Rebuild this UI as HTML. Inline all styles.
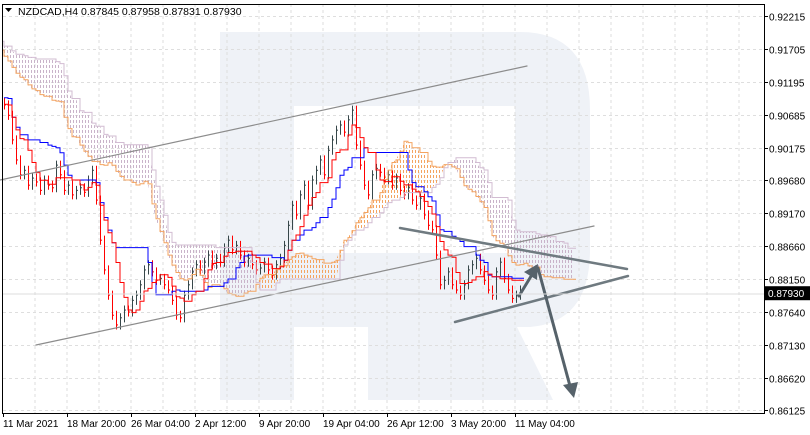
<!DOCTYPE html>
<html><head><meta charset="utf-8"><style>
html,body{margin:0;padding:0;background:#fff;}
svg{display:block;font-family:"Liberation Sans",sans-serif;}
</style></head><body>
<svg id="chart" width="810" height="435" viewBox="0 0 810 435">
<defs>
<pattern id="pA" width="3" height="5" patternUnits="userSpaceOnUse"><rect x="1" y="0" width="1" height="3" fill="#f4a460"/></pattern>
<pattern id="pB" width="3" height="5" patternUnits="userSpaceOnUse"><rect x="1" y="0" width="1" height="3" fill="#c9b3c9"/></pattern>
<clipPath id="plotClip"><rect x="3" y="4" width="761" height="409"/></clipPath>
</defs>
<path fill="#eff2f7" fill-rule="evenodd" d="M220,32 L520,32 Q590,32 590,110 L590,250 Q590,322 530,327 L517,327 L553,400 L368,400 L368,327 L294,327 L294,400 L220,400 Z M294,106 L515,106 L515,253 L294,253 Z"/>
<g id="grid"></g>
<g clip-path="url(#plotClip)">
<g id="cloud"></g>
<g id="bars"></g>
<g id="lines"></g>
</g>
<g stroke-linecap="round">
<line x1="0" y1="180" x2="527" y2="66" stroke="#8c8c8c" stroke-width="1.2"/>
<line x1="36" y1="345" x2="594" y2="226" stroke="#8c8c8c" stroke-width="1.2"/>
<line x1="400" y1="228" x2="627" y2="269" stroke="#6f7a80" stroke-width="2.5"/>
<line x1="455" y1="322" x2="628" y2="276" stroke="#6f7a80" stroke-width="2.5"/>
<line x1="519" y1="296" x2="533" y2="273" stroke="#56626a" stroke-width="3"/>
<polygon points="538,264 524,272 537,280" fill="#56626a"/>
<line x1="538" y1="268" x2="570" y2="386" stroke="#56626a" stroke-width="3"/>
<polygon points="574,398 563,385 578,382" fill="#56626a"/>
</g>
<line x1="3" y1="294" x2="764" y2="294" stroke="#dcdcdc" stroke-width="1"/>
<g id="axes"></g>
<text x="18" y="15" font-size="10.5" fill="#000">NZDCAD,H4  0.87845 0.87958 0.87831 0.87930</text>
<polygon points="5,8 12,8 8.5,12" fill="#000"/>
</svg>
<script>
const preCloses = [0.9232,0.9222,0.9228,0.9210,0.9200,0.9212,0.9190,0.9178,0.9185,0.9160,
0.9145,0.9150,0.9125,0.9110,0.9120,0.9095,0.9085,0.9100,0.9080,0.9075,
0.9090,0.9070,0.9085,0.9100,0.9092,0.9088];
const closes = [0.9084,0.9068,0.9030,0.8999,0.8976,0.8983,0.8960,0.8971,0.8965,0.8952,
0.8968,0.8960,0.8956,0.8991,0.8976,0.8952,0.8960,0.8945,0.8952,0.8956,
0.8949,0.8968,0.8983,0.8937,0.8875,0.8829,0.8790,0.8759,0.8744,0.8755,
0.8767,0.8764,0.8782,0.8790,0.8806,0.8829,0.8837,0.8826,0.8813,0.8816,
0.8806,0.8798,0.8782,0.8759,0.8755,0.8790,0.8806,0.8826,0.8837,0.8829,
0.8841,0.8852,0.8837,0.8847,0.8841,0.8863,0.8875,0.8860,0.8867,0.8852,
0.8841,0.8847,0.8837,0.8829,0.8832,0.8841,0.8829,0.8821,0.8837,0.8847,
0.8867,0.8898,0.8929,0.8914,0.8945,0.8960,0.8929,0.8968,0.8983,0.8999,
0.8976,0.9014,0.9030,0.9045,0.9053,0.9042,0.9061,0.9076,0.9022,0.8991,
0.8960,0.8945,0.8976,0.8986,0.8980,0.8968,0.8976,0.8960,0.8971,0.8952,
0.8945,0.8956,0.8937,0.8929,0.8940,0.8914,0.8898,0.8891,0.8852,0.8806,
0.8813,0.8826,0.8806,0.8798,0.8790,0.8806,0.8829,0.8837,0.8847,0.8829,
0.8813,0.8798,0.8790,0.8826,0.8841,0.8816,0.8798,0.8785,0.8790,0.8798];
const priceTicks = ["0.92215","0.91705","0.91195","0.90685","0.90175","0.89680","0.89170","0.88660","0.88150","0.87640","0.87130","0.86620","0.86125"];
const timeLabels = ["11 Mar 2021","18 Mar 20:00","26 Mar 04:00","2 Apr 12:00","9 Apr 20:00","19 Apr 04:00","26 Apr 12:00","3 May 20:00","11 May 04:00"];
const lastPrice = 0.87930;

const NS="http://www.w3.org/2000/svg";
const X0=4, STEP=4, PL=3, PR=764, PT=4, PB=413;
const OFF=preCloses.length;
const all=preCloses.concat(closes);
const yOf = p => 16 + (0.92215 - p) * (394/0.0609);
const xOf = i => X0 + (i-OFF)*STEP;
function mk(tag, attrs, parent){const e=document.createElementNS(NS,tag);for(const k in attrs)e.setAttribute(k,attrs[k]);parent.appendChild(e);return e;}

// grid
const grid=document.getElementById('grid');
for(let k=0;k<24;k++){const x=35+32*k;if(x>=PR)break;
 const l=mk('line',{x1:x,y1:PT,x2:x,y2:PB,stroke:'#dedede','stroke-dasharray':'3,3'},grid);
 
 }
priceTicks.forEach(t=>{const y=Math.round(yOf(+t))+0.5;
 const l=mk('line',{x1:PL,y1:y,x2:PR,y2:y,stroke:'#dedede','stroke-dasharray':'3,3'},grid);
 
 });

// bars
const highs=[],lows=[];
const bars=document.getElementById('bars');
all.forEach((c,i)=>{const o=i?all[i-1]:c+0.0008;
 const h=Math.max(o,c)+0.0007,lo=Math.min(o,c)-0.0007;highs.push(h);lows.push(lo);
 if(i<OFF)return;
 const x=xOf(i)+0.5,col=c<o?'#ff0000':'#37474a';
 const b=mk('line',{x1:x,y1:yOf(h),x2:x,y2:yOf(lo),stroke:col,'stroke-width':1},bars);
 
 
 const t=mk('line',{x1:x,y1:yOf(c),x2:x+1.5,y2:yOf(c),stroke:col,'stroke-width':1},bars);
 
 });

// ichimoku
function mid(n,i){let h=-1,l=9;for(let j=Math.max(0,i-n+1);j<=i;j++){h=Math.max(h,highs[j]);l=Math.min(l,lows[j]);}return (h+l)/2;}
const TEN=5,KIJ=13,SB=26,SH=13,N=all.length;
const ten=[],kij=[],sa=[],sb=[];
for(let i=0;i<N;i++){ten.push(mid(TEN,i));kij.push(mid(KIJ,i));}
for(let i=0;i<N;i++){sa[i+SH]=(ten[i]+kij[i])/2;sb[i+SH]=mid(SB,i);}
const cloud=document.getElementById('cloud');
for(let i=OFF-1;i<N+SH-1;i++){
 const a1=sa[i],a2=sa[i+1],b1=sb[i],b2=sb[i+1];
 const pts=`${xOf(i)},${yOf(a1)} ${xOf(i+1)},${yOf(a2)} ${xOf(i+1)},${yOf(b2)} ${xOf(i)},${yOf(b1)}`;
 const pg=mk('polygon',{points:pts,fill:(a1+a2)>(b1+b2)?'url(#pA)':'url(#pB)'},cloud);
 
 }
function stepPath(arr,from,to){let d='';for(let i=from;i<to;i++){if(arr[i]===undefined)continue;const y=yOf(arr[i]).toFixed(1);d+=(d?'L':'M')+xOf(i)+','+y+'L'+(xOf(i)+STEP)+','+y;}return d;}
const lines=document.getElementById('lines');
const lsa=mk('path',{d:stepPath(sa,OFF-1,N+SH),fill:'none',stroke:'#f4a460','stroke-width':1},lines);


const lsb=mk('path',{d:stepPath(sb,OFF-1,N+SH),fill:'none',stroke:'#d2bcd2','stroke-width':1},lines);


const lk=mk('path',{d:stepPath(kij,OFF,N),fill:'none',stroke:'#0000ff','stroke-width':1},lines);


const lt=mk('path',{d:stepPath(ten,OFF,N),fill:'none',stroke:'#ff0000','stroke-width':1},lines);



// axes
const ax=document.getElementById('axes');
const fr=mk('path',{d:`M${PL-0.5},${PT} L${PL-0.5},${PB+0.5} L${PR+0.5},${PB+0.5} L${PR+0.5},${PT+0.5} L${PL-0.5},${PT+0.5}`,fill:'none',stroke:'#000','stroke-width':1},ax);


priceTicks.forEach(t=>{const y=Math.round(yOf(+t))+0.5;
 const tk=mk('line',{x1:PR,y1:y,x2:PR+4,y2:y,stroke:'#000'},ax);
 
 
 const tx=mk('text',{x:769,y:y+4,'font-size':10,fill:'#000'},ax);tx.textContent=t;
 
 });
timeLabels.forEach((t,k)=>{const x=3+64*k;
 const tk=mk('line',{x1:x+0.5,y1:PB,x2:x+0.5,y2:PB+4,stroke:'#000'},ax);
 
 
 const tx=mk('text',{x:x,y:427,'font-size':10,fill:'#000'},ax);tx.textContent=t;
 
 });
const ly=yOf(lastPrice);
const bx=mk('rect',{x:765,y:ly-7,width:45,height:14,fill:'#000'},ax);


const bt=mk('text',{x:768,y:ly+4,'font-size':10,fill:'#fff'},ax);bt.textContent=lastPrice.toFixed(5);


</script>
</body></html>
